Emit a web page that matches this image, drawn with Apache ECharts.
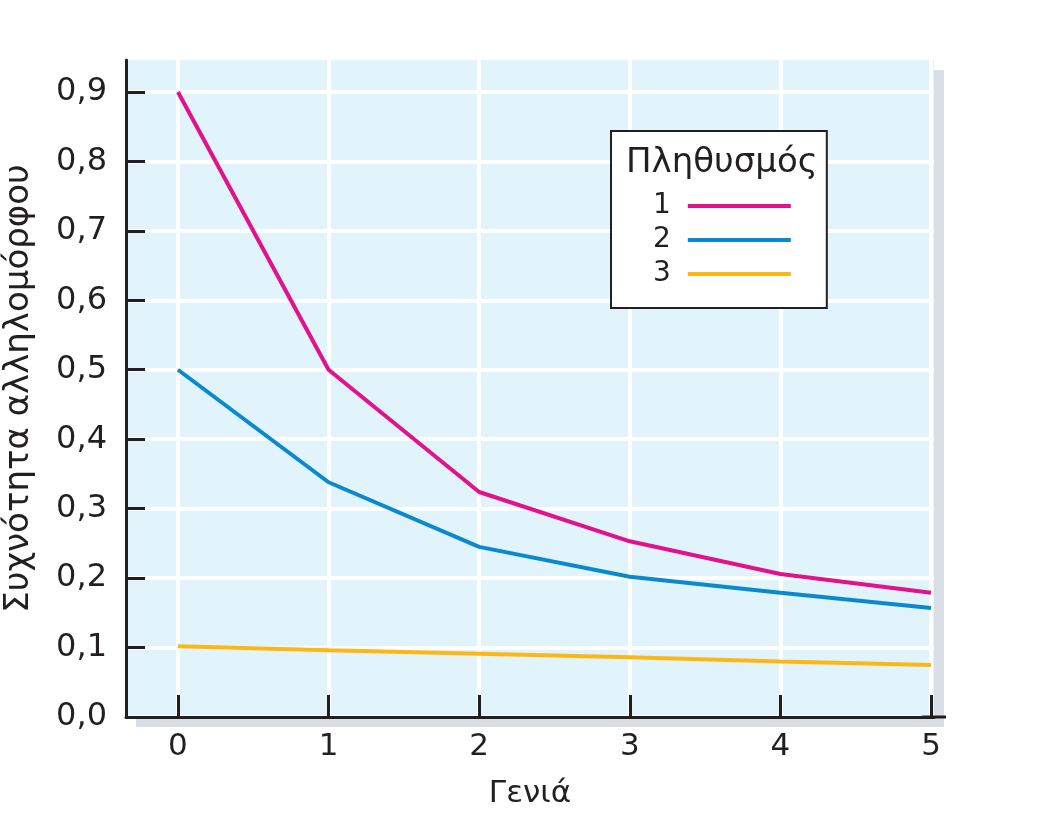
<!DOCTYPE html>
<html>
<head>
<meta charset="utf-8">
<script src="https://cdn.jsdelivr.net/npm/echarts@6/dist/echarts.min.js"></script>
<style>
html,body{margin:0;padding:0;background:#fff;}
#chart{width:1054px;height:823px;}
</style>
</head>
<body>
<div id="chart"></div>
<script>
var generations = [0, 1, 2, 3, 4, 5];
var yTicks = [0, 0.1, 0.2, 0.3, 0.4, 0.5, 0.6, 0.7, 0.8, 0.9];
var seriesNames = ['1', '2', '3'];
var pop1 = [0.9, 0.5, 0.324, 0.253, 0.206, 0.179];
var pop2 = [0.5, 0.338, 0.245, 0.202, 0.179, 0.157];
var pop3 = [0.102, 0.096, 0.091, 0.086, 0.080, 0.075];
var legendTitle = 'Πληθυσμός';
var xName = 'Γενιά';
var yName = 'Συχνότητα αλληλομόρφου';

var colors = ['#e2118c', '#0a89d0', '#fdb714'];
var FONT = 'DejaVu Sans';
var TXT = '#231f20';

function pairs(vals) {
  return vals.map(function (v, i) { return [generations[i], v]; });
}

var chart = echarts.init(document.getElementById('chart'), null, {renderer: 'canvas'});
chart.setOption({
  animation: false,
  color: colors,
  textStyle: {fontFamily: FONT, color: TXT},
  title: {
    text: legendTitle,
    left: 621, top: 141,
    z: 20,
    textStyle: {fontFamily: FONT, fontSize: 34, fontWeight: 'normal', color: TXT}
  },
  legend: {
    data: seriesNames,
    orient: 'vertical',
    left: 611, top: 131,
    align: 'right',
    backgroundColor: '#fff',
    borderColor: '#231f20',
    borderWidth: 2,
    borderRadius: 0,
    padding: [58, 36, 17, 42],
    itemGap: 0,
    itemWidth: 103,
    itemHeight: 4,
    icon: 'rect',
    textStyle: {fontFamily: FONT, fontSize: 28, color: TXT, lineHeight: 34, padding: [0, 12, 0, 0]}
  },
  grid: {
    left: 126, top: 60, right: 120, bottom: 106,
    outerBoundsMode: 'none',
    containLabel: false,
    show: true,
    backgroundColor: '#e1f4fc',
    borderWidth: 0,
    shadowColor: '#d9dfe5',
    shadowBlur: 0,
    shadowOffsetX: 10,
    shadowOffsetY: 10
  },
  xAxis: {
    type: 'value',
    min: -0.345, max: 5.02,
    name: xName,
    nameLocation: 'middle',
    nameGap: 61,
    nameTextStyle: {fontFamily: FONT, fontSize: 31, color: TXT},
    axisLine: {show: true, onZero: false, lineStyle: {color: '#231f20', width: 3},
      symbol: ['none', 'rect'], symbolSize: [3, 24]},
    axisTick: {show: true, inside: true, length: 22, customValues: generations,
      lineStyle: {color: '#231f20', width: 3}},
    axisLabel: {customValues: generations, margin: 14, fontFamily: FONT, fontSize: 31, color: TXT,
      formatter: function (v) { return String(v); }},
    splitLine: {show: true, lineStyle: {color: '#ffffff', width: 4}}
  },
  yAxis: {
    type: 'value',
    min: 0, max: 0.946,
    name: yName,
    nameLocation: 'middle',
    nameRotate: 90,
    nameGap: 90,
    nameTextStyle: {fontFamily: FONT, fontSize: 34, color: TXT},
    axisLine: {show: true, onZero: false, lineStyle: {color: '#231f20', width: 3}},
    axisTick: {show: true, inside: true, length: 19, customValues: yTicks,
      lineStyle: {color: '#231f20', width: 3}},
    axisLabel: {customValues: yTicks, margin: 19, fontFamily: FONT, fontSize: 32, color: TXT,
      formatter: function (v) { return v.toFixed(1).replace('.', ','); }},
    splitLine: {show: true, lineStyle: {color: '#ffffff', width: 4}}
  },
  series: [
    {name: seriesNames[0], type: 'line', data: pairs(pop1), showSymbol: false, symbol: 'none',
      lineStyle: {width: 4, color: colors[0]}, itemStyle: {color: colors[0]}},
    {name: seriesNames[1], type: 'line', data: pairs(pop2), showSymbol: false, symbol: 'none',
      lineStyle: {width: 4, color: colors[1]}, itemStyle: {color: colors[1]}},
    {name: seriesNames[2], type: 'line', data: pairs(pop3), showSymbol: false, symbol: 'none',
      lineStyle: {width: 4, color: colors[2]}, itemStyle: {color: colors[2]}}
  ]
});
</script>
</body>
</html>
